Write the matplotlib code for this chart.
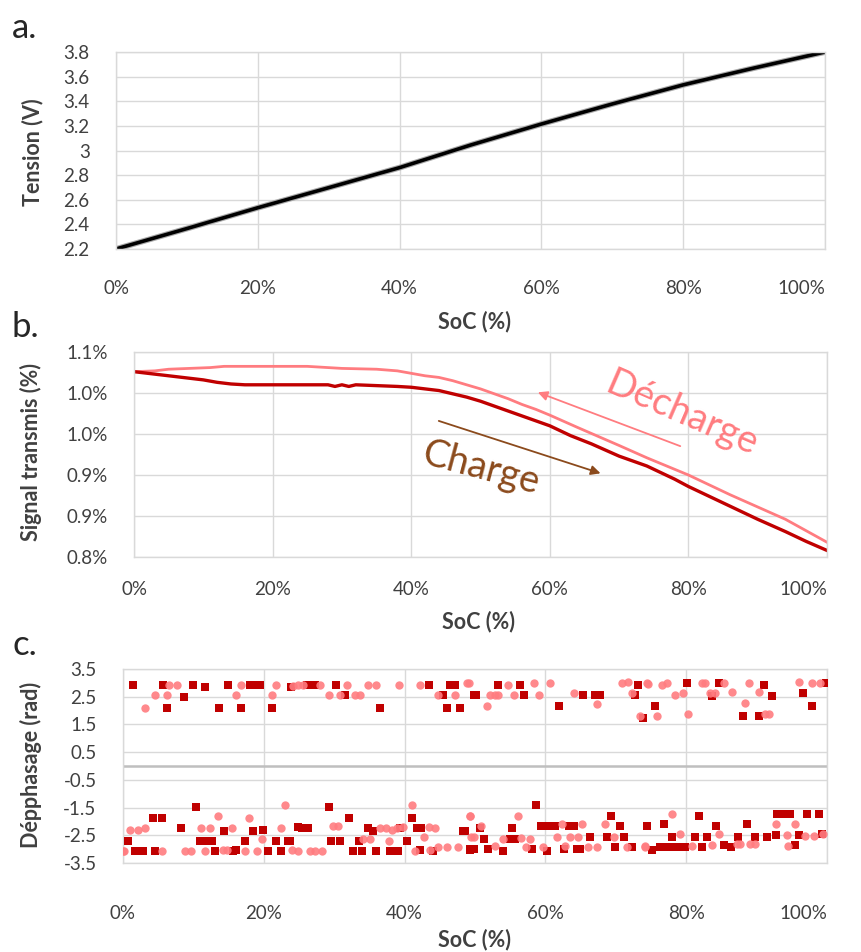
import matplotlib
matplotlib.use("Agg")
import matplotlib.pyplot as plt

plt.rcParams['font.family'] = ['Lato', 'DejaVu Sans']

# ---- a. Tension vs SoC ----
volt_soc = [0, 10, 20, 30, 40, 50, 60, 70, 80, 90, 100]
volt = [2.20, 2.366, 2.535, 2.698, 2.861, 3.044, 3.215, 3.378, 3.533, 3.67, 3.80]

# ---- b. Signal transmis ----
charge_soc = [0, 2, 4, 6, 8, 10, 12, 14, 16, 20, 25, 28, 29, 30, 31, 32, 35, 38, 40, 42, 44,
              46, 48, 50, 52, 54, 56, 58, 60, 63, 66, 70, 74, 78, 80, 83, 86, 90, 94, 97, 100]
charge_sig = [1.026, 1.024, 1.022, 1.020, 1.018, 1.016, 1.013, 1.011, 1.010, 1.010, 1.010,
              1.010, 1.008, 1.010, 1.008, 1.010, 1.009, 1.008, 1.007, 1.005, 1.003,
              0.999, 0.995, 0.990, 0.984, 0.978, 0.972, 0.966, 0.960, 0.948, 0.938,
              0.923, 0.911, 0.895, 0.886, 0.874, 0.862, 0.846, 0.831, 0.819, 0.808]
decharge_soc = [0, 3, 5, 8, 11, 13, 20, 25, 28, 30, 35, 38, 40, 42, 44, 46, 48, 50, 52, 54,
                56, 58, 60, 64, 67, 70, 74, 78, 80, 83, 86, 90, 94, 97, 100]
decharge_sig = [1.026, 1.027, 1.029, 1.030, 1.031, 1.0325, 1.0325, 1.0325, 1.031, 1.030,
                1.029, 1.027, 1.024, 1.021, 1.019, 1.015, 1.010, 1.005, 0.999, 0.993,
                0.986, 0.980, 0.973, 0.958, 0.947, 0.936, 0.921, 0.907, 0.900, 0.888,
                0.876, 0.861, 0.846, 0.832, 0.818]
sig_ticks = [0.80, 0.85, 0.90, 0.95, 1.00, 1.05]
sig_labels = ["0.8%", "0.9%", "0.9%", "1.0%", "1.0%", "1.1%"]

# ---- c. Déphasage ----
sq_soc = [1.4, 5.7, 10.0, 11.6, 14.9, 18.0, 18.7, 19.4, 8.7, 6.3, 13.7, 16.7, 21.2, 23.9,
          26.1, 27.3, 30.3, 43.4, 46.4, 47.2, 31.5, 45.5, 49.8, 36.5, 46.0, 47.8,
          53.3, 56.4, 73.1, 50.2, 57.0, 65.4, 67.1, 67.8, 72.7, 62.0, 73.8,
          80.1, 84.6, 91.0, 83.7, 92.2, 96.6, 75.6, 97.8, 73.9, 88.1, 90.3, 99.8,
          10.4, 4.3, 5.5, 8.2, 14.4, 19.9, 0.7, 10.9, 11.9, 12.6, 17.3, 21.8, 23.5,
          1.7, 2.8, 4.5, 13.0, 15.6, 16.1, 20.6, 22.5, 18.5, 24.9,
          29.2, 32.1, 41.0, 25.4, 26.3, 34.8, 35.5, 39.3, 41.7, 42.4, 48.3, 23.7,
          29.6, 30.8, 33.5, 40.3, 32.7, 33.9, 35.9, 37.9, 39.1, 42.2, 44.1, 49.3,
          58.7, 69.3, 55.2, 50.7, 59.4, 60.3, 61.3, 63.3, 64.0, 70.6, 74.4, 48.6,
          51.3, 55.0, 55.7, 66.4, 68.7, 71.2, 49.3, 49.8, 51.9, 54.0, 58.1, 60.2,
          62.6, 64.5, 64.9, 69.9, 72.3,
          81.8, 74.4, 76.8, 84.3, 88.6, 92.9, 93.6, 94.8, 97.2, 98.9, 78.0, 81.3,
          82.9, 87.4, 89.8, 91.5, 92.7, 96.0, 99.3, 75.1, 76.3, 77.3, 78.2, 79.2,
          79.9, 82.2, 85.3, 86.3, 95.5]
sq_phase = [2.92, 2.92, 2.92, 2.84, 2.92, 2.92, 2.92, 2.92, 2.48, 2.10, 2.10, 2.10, 2.10, 2.86,
            2.92, 2.92, 2.92, 2.92, 2.92, 2.92, 2.56, 2.56, 2.56, 2.10, 2.10, 2.10,
            2.92, 2.92, 2.92, 2.56, 2.56, 2.56, 2.56, 2.56, 2.56, 2.17, 1.74,
            2.98, 2.98, 2.92, 2.52, 2.52, 2.62, 2.17, 2.17, 1.72, 1.80, 1.80, 2.98,
            -1.49, -1.87, -1.87, -2.25, -2.34, -2.31, -2.70, -2.70, -2.70, -2.70, -2.70, -2.70, -2.70,
            -3.07, -3.07, -3.07, -3.07, -3.07, -3.04, -3.07, -3.07, -2.34, -2.19,
            -1.49, -1.87, -1.87, -2.25, -2.25, -2.25, -2.34, -2.25, -2.25, -2.25, -2.34, -2.70,
            -2.70, -2.70, -2.70, -2.70, -3.07, -3.07, -3.07, -3.07, -3.07, -3.04, -3.07, -3.04,
            -1.41, -1.81, -2.25, -2.25, -2.17, -2.17, -2.17, -2.17, -2.17, -2.17, -2.17, -2.34,
            -2.62, -2.62, -2.62, -2.55, -2.55, -2.55, -3.00, -3.00, -3.00, -3.07, -3.00, -3.07,
            -3.00, -3.00, -3.00, -2.93, -2.93,
            -1.81, -2.17, -2.10, -2.17, -2.10, -1.74, -1.74, -1.74, -1.74, -1.74, -2.55, -2.55,
            -2.55, -2.55, -2.55, -2.55, -2.50, -2.50, -2.46, -3.04, -2.94, -2.94, -2.94, -2.94,
            -2.94, -2.92, -2.85, -2.94, -2.85]
ci_soc = [6.6, 7.6, 16.7, 21.8, 4.5, 6.2, 16.1, 21.1, 3.1,
          24.2, 24.9, 25.6, 28.0, 31.8, 34.8, 36.0, 39.2, 42.2, 48.8, 29.2, 30.8, 32.9, 33.7,
          47.2, 44.8,
          49.1, 54.7, 58.4, 60.6, 70.9, 71.8, 74.4, 52.1, 52.8, 53.3, 55.5, 59.1, 64.0, 72.3,
          51.7, 67.3, 73.5,
          74.6, 76.5, 77.3, 82.2, 82.7, 85.3, 88.9, 96.0, 97.9, 99.0, 78.4, 79.6, 83.4, 84.1,
          86.5, 90.3, 88.4, 75.9, 80.3, 91.2, 91.7,
          23.0, 13.5, 17.9, 1.0, 2.1, 3.1, 11.1, 12.3, 15.5, 22.4, 19.7, 0.0, 0.2, 5.5, 8.8,
          9.7, 11.6, 14.2, 14.8, 17.3, 19.0, 24.0,
          41.0, 49.3, 29.9, 30.6, 36.5, 37.4, 38.2, 38.9, 39.8, 43.4, 44.3, 49.5, 34.1, 35.1,
          37.8, 42.8, 24.9, 26.5, 27.3, 28.2, 41.5, 43.6, 44.8, 46.0, 47.6,
          49.3, 56.1, 50.9, 62.3, 65.2, 68.5, 49.8, 54.0, 56.6, 57.8, 61.6, 63.5, 64.7, 69.7,
          52.9, 57.3, 59.7, 62.8, 66.1, 67.3, 71.6, 74.2,
          78.0, 92.7, 95.4, 79.1, 84.7, 94.3, 96.9, 98.1, 99.5, 74.2, 80.8, 83.6, 87.2, 87.7,
          89.1, 89.8, 94.5]
ci_phase = [2.92, 2.92, 2.92, 2.92, 2.56, 2.56, 2.56, 2.56, 2.10,
            2.90, 2.92, 2.92, 2.92, 2.92, 2.92, 2.92, 2.92, 2.92, 2.98, 2.56, 2.56, 2.56, 2.56,
            2.56, 2.56,
            2.98, 2.92, 2.98, 2.98, 3.00, 3.02, 2.98, 2.56, 2.56, 2.56, 2.56, 2.56, 2.62, 2.62,
            2.17, 2.23, 1.80,
            2.95, 2.92, 2.98, 2.98, 2.98, 2.98, 2.98, 3.04, 2.98, 2.98, 2.55, 2.62, 2.62, 2.62,
            2.68, 2.68, 2.26, 1.80, 1.86, 1.86, 1.86,
            -1.41, -1.81, -1.87, -2.30, -2.30, -2.25, -2.25, -2.25, -2.25, -2.25, -2.65, -3.05,
            -3.05, -3.07, -3.05, -3.05, -3.07, -3.04, -3.04, -3.07, -3.07, -3.04,
            -1.41, -1.81, -2.17, -2.17, -2.25, -2.25, -2.30, -2.25, -2.20, -2.20, -2.25, -2.55,
            -2.62, -2.62, -2.70, -2.55, -3.05, -3.07, -3.07, -3.07, -3.07, -3.04, -2.93, -2.93,
            -2.93,
            -1.81, -1.81, -2.17, -2.10, -2.10, -2.10, -2.55, -2.62, -2.60, -2.62, -2.55, -2.55,
            -2.55, -2.55, -2.89, -2.92, -2.92, -2.89, -2.92, -2.92, -2.92, -2.92,
            -1.74, -2.10, -2.10, -2.46, -2.46, -2.50, -2.53, -2.53, -2.46, -2.89, -2.89, -2.85,
            -2.80, -2.80, -2.80, -2.80, -2.89]
phase_ticks = [3.5, 2.5, 1.5, 0.5, -0.5, -1.5, -2.5, -3.5]

soc_ticks = [0, 20, 40, 60, 80, 100]
soc_labels = ["0%", "20%", "40%", "60%", "80%", "100%"]

GRID = "#D9D9D9"
TXT = "#404040"
DARK_RED = "#C00000"
PINK = "#FF7C80"
BROWN = "#8B4A1C"

W, H = 861, 952
fig = plt.figure(figsize=(W / 100, H / 100), dpi=100)


def box(l, t, r, b):
    return [l / W, (H - b) / H, (r - l) / W, (b - t) / H]


def style(ax, ypad, xpad):
    ax.set_xlim(0, 100)
    ax.set_xticks(soc_ticks)
    ax.set_xticklabels(soc_labels)
    ax.grid(True, color=GRID, lw=1.0)
    ax.set_axisbelow(True)
    for s in ax.spines.values():
        s.set_color(GRID)
        s.set_linewidth(1.0)
    ax.tick_params(length=0, labelsize=13.5, colors=TXT)
    ax.tick_params(axis="y", pad=ypad)
    ax.tick_params(axis="x", pad=xpad)
    # keep the last category label inside the chart area
    last = ax.get_xticklabels()[-1]
    last.set_horizontalalignment("right")
    last.set_x(1.0)


# Panel a
ax1 = fig.add_axes(box(116, 52, 825, 249))
ax1.plot(volt_soc, volt, color="#A8A8A8", lw=4.2, solid_capstyle="butt")
ax1.plot(volt_soc, volt, color="black", lw=2.6, solid_capstyle="butt")
ax1.set_ylim(2.2, 3.8)
ax1.set_yticks([2.2, 2.4, 2.6, 2.8, 3.0, 3.2, 3.4, 3.6, 3.8])
ax1.set_yticklabels(["2.2", "2.4", "2.6", "2.8", "3", "3.2", "3.4", "3.6", "3.8"])
style(ax1, 19, 22)

# Panel b
ax2 = fig.add_axes(box(134, 352, 827, 557))
ax2.plot(decharge_soc, decharge_sig, color=PINK, lw=2.0)
ax2.plot(charge_soc, charge_sig, color=DARK_RED, lw=2.4)
ax2.set_ylim(0.80, 1.05)
ax2.set_yticks(sig_ticks)
ax2.set_yticklabels(sig_labels)
style(ax2, 19, 17)
ax2.annotate("", xy=(57.9, 1.002), xytext=(79.2, 0.934),
             arrowprops=dict(arrowstyle="-|>", color=PINK, lw=1.3, mutation_scale=14))
ax2.annotate("", xy=(67.7, 0.901), xytext=(43.6, 0.967),
             arrowprops=dict(arrowstyle="-|>", color=BROWN, lw=1.3, mutation_scale=14))
ax2.text(79.1, 0.975, "Décharge", color=PINK, fontsize=27.5, rotation=-23.5,
         ha="center", va="center", rotation_mode="anchor")
ax2.text(50.1, 0.908, "Charge", color=BROWN, fontsize=27.5, rotation=-15,
         ha="center", va="center", rotation_mode="anchor")

# Panel c
ax3 = fig.add_axes(box(123, 669, 827, 863))
ax3.scatter(sq_soc, sq_phase, marker="s", s=32, color=DARK_RED, linewidths=0, zorder=3)
ax3.scatter(ci_soc, ci_phase, marker="o", s=36, color=PINK, alpha=0.9, linewidths=0, zorder=4)
ax3.axhline(0, color="#BFBFBF", lw=1.8, zorder=2)
ax3.set_ylim(-3.5, 3.5)
ax3.set_yticks(phase_ticks)
ax3.set_yticklabels([f"{v:g}" for v in phase_ticks])
style(ax3, 19, 30)

# Axis titles and panel letters
lab = dict(fontsize=15.5, fontweight="bold", color=TXT, ha="center", va="center")
fig.text(474 / W, 1 - 322 / H, "SoC (%)", **lab)
fig.text(478 / W, 1 - 622 / H, "SoC (%)", **lab)
fig.text(474 / W, 1 - 940 / H, "SoC (%)", **lab)
fig.text(33 / W, 1 - 152 / H, "Tension (V)", rotation=90, **lab)
fig.text(31 / W, 1 - 452 / H, "Signal transmis (%)", rotation=90, **lab)
fig.text(31 / W, 1 - 765 / H, "Dépphasage (rad)", rotation=90, **lab)

let = dict(fontsize=25, color="#262626", ha="left", va="center")
fig.text(12 / W, 1 - 28 / H, "a.", **let)
fig.text(12 / W, 1 - 327 / H, "b.", **let)
fig.text(12 / W, 1 - 645 / H, "c.", **let)

fig.savefig("out.png", dpi=100, facecolor="white")
